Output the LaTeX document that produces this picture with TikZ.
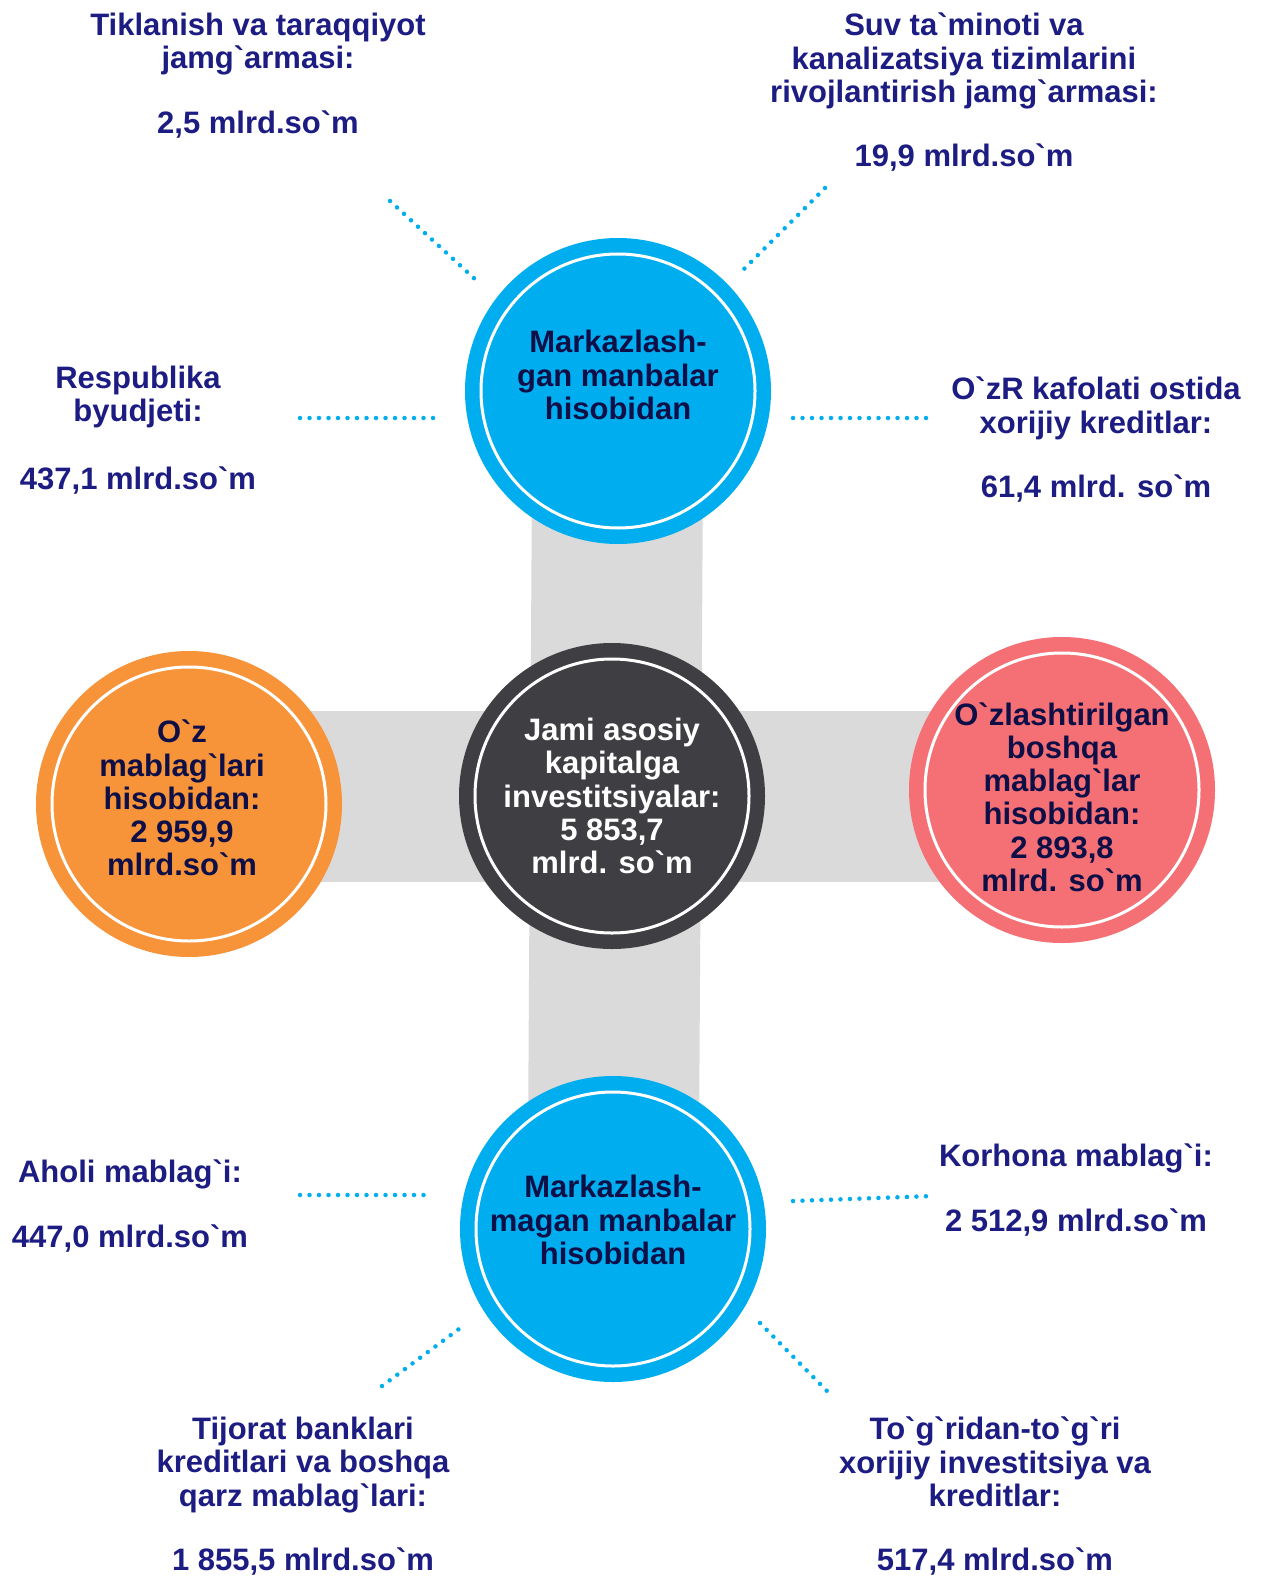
\documentclass[tikz,border=0pt]{standalone}
\usepackage{fontspec}
\newfontfamily\uzfont{Liberation Sans}
\usetikzlibrary{backgrounds}

\definecolor{skyb}{RGB}{0,174,239}
\definecolor{darkg}{RGB}{63,63,67}
\definecolor{orng}{RGB}{247,148,58}
\definecolor{pinkr}{RGB}{244,112,116}
\definecolor{barg}{RGB}{218,218,218}
\definecolor{navyl}{RGB}{28,28,130}
\definecolor{navyd}{RGB}{15,15,72}

\tikzset{
  ring/.style={circle, inner sep=0pt, minimum size=274pt, fill=#1, draw=white, line width=3pt,
    preaction={draw=#1, line width=32pt}},
  bar/.style={draw=barg, line width=171pt},
  intxt/.style={font=\uzfont\bfseries\fontsize{31}{33.2}\selectfont, align=center, inner sep=0pt, text=navyd},
  lbl/.style={font=\uzfont\bfseries\fontsize{31}{33.2}\selectfont, align=center, inner sep=0pt, text=navyl, anchor=north},
  dots/.style={draw=skyb, line width=4.5pt, line cap=round, dash pattern=on 0pt off 9.5pt}
}

\begin{document}
\begin{tikzpicture}[x=1pt, y=-1pt]
  \useasboundingbox (0,0) rectangle (1263,1578);

  % circles
  \node[ring=skyb]  at ( 618, 391) (top)   {};
  \node[ring=darkg] at ( 612, 796) (mid)   {};
  \node[ring=orng]  at ( 189, 804) (left)  {};
  \node[ring=pinkr] at (1062, 790) (right) {};
  \node[ring=skyb]  at ( 613,1229) (bot)   {};

  % grey cross behind the circles
  \begin{scope}[on background layer]
    \draw[bar] (top.center) -- (bot.center);
    \draw[bar] (left.center |- mid.center) -- (right.center |- mid.center);
  \end{scope}

  % texts in the circles
  \node[intxt] at ([yshift=16pt]top.center) (topt) {Markazlash-\\gan manbalar\\hisobidan};
  \node[intxt, text=white] at (mid.center) (midt) {Jami asosiy\\kapitalga\\investitsiyalar:\\5 853,7\\mlrd. so`m};
  \node[intxt] at ([xshift=-7pt, yshift=6pt]left.center) (leftt) {O`z\\mablag`lari\\hisobidan:\\2 959,9\\mlrd.so`m};
  \node[intxt] at ([yshift=-7pt]right.center) (rightt) {O`zlashtirilgan\\boshqa\\mablag`lar\\hisobidan:\\2 893,8\\mlrd. so`m};
  \node[intxt] at ([yshift=9pt]bot.center) (bott) {Markazlash-\\magan manbalar\\hisobidan};

  % outer labels
  \node[lbl] at ( 258,  13) (tik)  {Tiklanish va taraqqiyot\\jamg`armasi:\\[31pt]2,5 mlrd.so`m};
  \node[lbl] at ( 964,  13) (suv)  {Suv ta`minoti va\\kanalizatsiya tizimlarini\\rivojlantirish jamg`armasi:\\[31pt]19,9 mlrd.so`m};
  \node[lbl] at ( 138, 366) (resp) {Respublika\\byudjeti:\\[34pt]437,1 mlrd.so`m};
  \node[lbl] at (1096, 377) (kaf)  {O`zR kafolati ostida\\xorijiy kreditlar:\\[31pt]61,4 mlrd. so`m};
  \node[lbl] at ( 130,1160) (aho)  {Aholi mablag`i:\\[31pt]447,0 mlrd.so`m};
  \node[lbl] at (1076,1144) (kor)  {Korhona mablag`i:\\[31pt]2 512,9 mlrd.so`m};
  \node[lbl] at ( 303,1417) (tij)  {Tijorat banklari\\kreditlari va boshqa\\qarz mablag`lari:\\[31pt]1 855,5 mlrd.so`m};
  \node[lbl] at ( 995,1417) (tog)  {To`g`ridan-to`g`ri\\xorijiy investitsiya va\\kreditlar:\\[31pt]517,4 mlrd.so`m};

  % dotted connectors
  \coordinate (a1) at (390, 201); \coordinate (a2) at (476, 280);
  \coordinate (b1) at (825, 188); \coordinate (b2) at (741, 272);
  \coordinate (c1) at (300, 418); \coordinate (c2) at (440, 418);
  \coordinate (e1) at (793, 418); \coordinate (e2) at (933, 418);
  \coordinate (f1) at (300,1195); \coordinate (f2) at (430,1195);
  \coordinate (g1) at (793,1201); \coordinate (g2) at (933,1196);
  \coordinate (h1) at (382,1386); \coordinate (h2) at (463,1326);
  \coordinate (k1) at (760,1323); \coordinate (k2) at (827,1391);

  \draw[dots] (a1) -- (a2);
  \draw[dots] (b1) -- (b2);
  \draw[dots] (c1) -- (c2);
  \draw[dots] (e1) -- (e2);
  \draw[dots] (f1) -- (f2);
  \draw[dots] (g1) -- (g2);
  \draw[dots] (h1) -- (h2);
  \draw[dots] (k1) -- (k2);
\end{tikzpicture}
\end{document}
